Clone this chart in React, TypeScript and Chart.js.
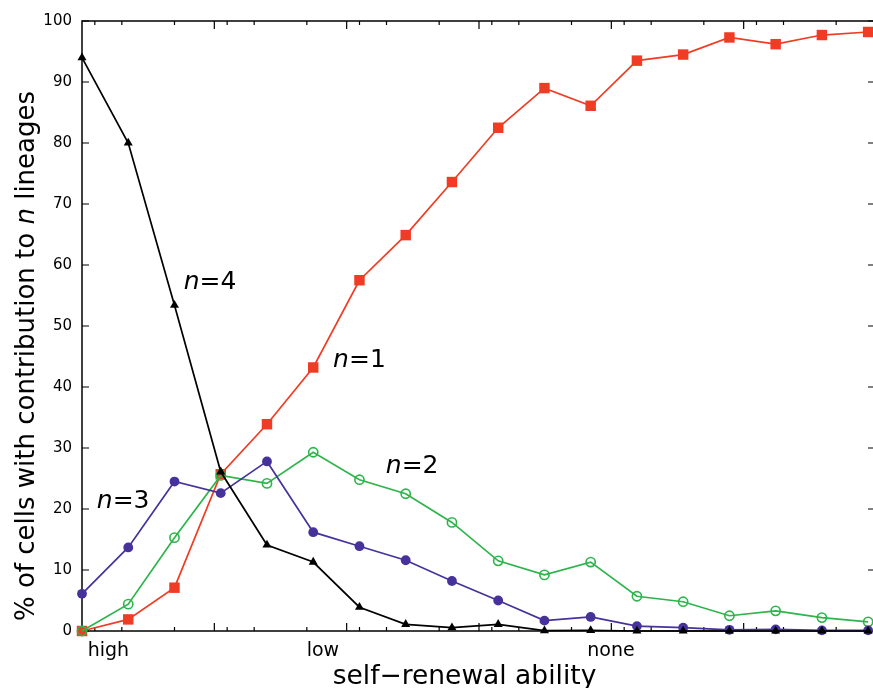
import React, { useEffect, useRef } from "react";
import { Chart, registerables } from "chart.js";

Chart.register(...registerables);

// ---- data ----
const pointIndex = [0, 1, 2, 3, 4, 5, 6, 7, 8, 9, 10, 11, 12, 13, 14, 15, 16, 17];
const n1Values = [0, 1.9, 7.1, 25.7, 33.9, 43.2, 57.5, 64.9, 73.6, 82.5, 89.0, 86.1, 93.5, 94.5, 97.3, 96.2, 97.7, 98.2];
const n2Values = [0, 4.4, 15.3, 25.5, 24.2, 29.3, 24.8, 22.5, 17.8, 11.5, 9.2, 11.3, 5.7, 4.8, 2.5, 3.3, 2.2, 1.5];
const n3Values = [6.1, 13.7, 24.5, 22.6, 27.8, 16.2, 13.9, 11.6, 8.2, 5.0, 1.7, 2.3, 0.8, 0.55, 0.2, 0.27, 0.1, 0.1];
const n4Values = [94.0, 80.0, 53.4, 26.1, 14.1, 11.3, 3.9, 1.1, 0.55, 1.1, 0.05, 0.1, 0, 0, 0, 0, 0, 0];

const xCategoryLabels = ["high", "low", "none"];
const xCategoryPositions = [0.57, 5.21, 11.44];
const xMax = 17.17;

const yMin = 0;
const yMax = 100;
const yStep = 10;

// decorative log-style tick pattern on top/bottom axes
const xTickDecades = [0, 1, 2, 3, 4, 5];
const xMinorTickMultipliers = [1.25, 2, 5];

// in-plot labels "n=k"
const annotationNumbers = ["4", "1", "2", "3"];
const annotationX = [2.2, 5.43, 6.57, 0.32];
const annotationY = [56.1, 43.3, 25.9, 20.2];

const yTitleParts = [
  { text: "% of cells with contribution to ", italic: false },
  { text: "n", italic: true },
  { text: " lineages", italic: false },
];
const xTitle = "self\u2212renewal ability";

const FONT = "'DejaVu Sans', 'Liberation Sans', sans-serif";

const toXY = (vals: number[]) => vals.map((v, i) => ({ x: pointIndex[i], y: v }));

const framePlugin = {
  id: "framePlugin",
  beforeDatasetsDraw(chart: any) {
    const { ctx, chartArea } = chart;
    const { left, right, top, bottom } = chartArea;
    const xlog = chart.scales.xlog;
    const y = chart.scales.y;
    ctx.save();
    ctx.strokeStyle = "#000";
    ctx.lineWidth = 1.5;
    ctx.strokeRect(left, top, right - left, bottom - top);
    ctx.lineWidth = 1.2;
    ctx.beginPath();
    for (const k of xTickDecades) {
      const marks: [number, number][] = [[1, 8], ...xMinorTickMultipliers.map((m) => [m, 4] as [number, number])];
      for (const [m, len] of marks) {
        const px = xlog.getPixelForValue(m * Math.pow(10, k));
        if (px <= left + 1 || px >= right - 1) continue;
        ctx.moveTo(px, bottom);
        ctx.lineTo(px, bottom - len);
        ctx.moveTo(px, top);
        ctx.lineTo(px, top + len);
      }
    }
    for (const t of y.ticks) {
      const py = y.getPixelForValue(t.value);
      ctx.moveTo(left, py);
      ctx.lineTo(left + 7, py);
      ctx.moveTo(right, py);
      ctx.lineTo(right - 8, py);
    }
    ctx.stroke();
    ctx.restore();
  },
  afterDraw(chart: any) {
    const { ctx } = chart;
    const xs = chart.scales.x;
    const ys = chart.scales.y;
    ctx.save();
    ctx.fillStyle = "#000";
    ctx.textBaseline = "alphabetic";
    ctx.textAlign = "left";

    // y title (rotated, mixed italic)
    const tsize = 26;
    const fontFor = (it: boolean, size: number) => `${it ? "italic " : ""}${size}px ${FONT}`;
    let total = 0;
    for (const p of yTitleParts) {
      ctx.font = fontFor(p.italic, tsize);
      total += ctx.measureText(p.text).width;
    }
    ctx.save();
    ctx.translate(34, 356);
    ctx.rotate(-Math.PI / 2);
    let cx = -total / 2;
    for (const p of yTitleParts) {
      ctx.font = fontFor(p.italic, tsize);
      ctx.fillText(p.text, cx, 0);
      cx += ctx.measureText(p.text).width;
    }
    ctx.restore();

    // x title
    ctx.font = fontFor(false, 26.5);
    ctx.textAlign = "center";
    ctx.fillText(xTitle, 464.5, 684);
    ctx.textAlign = "left";

    // annotations
    const asize = 25;
    annotationNumbers.forEach((num, i) => {
      let px = xs.getPixelForValue(annotationX[i]);
      const py = ys.getPixelForValue(annotationY[i]);
      ctx.font = fontFor(true, asize);
      ctx.fillText("n", px, py);
      px += ctx.measureText("n").width;
      ctx.font = fontFor(false, asize);
      ctx.fillText("=" + num, px, py);
    });
    ctx.restore();
  },
};

export default function App() {
  const canvasRef = useRef<HTMLCanvasElement | null>(null);

  useEffect(() => {
    const canvas = canvasRef.current;
    if (!canvas) return;
    const common = { showLine: true, clip: false as any, borderWidth: 1.7, tension: 0 };
    const chart = new Chart(canvas, {
      type: "scatter",
      data: {
        datasets: [
          {
            ...common,
            label: "n=4",
            data: toXY(n4Values),
            borderColor: "#000000",
            backgroundColor: "#000000",
            pointStyle: "triangle",
            pointRadius: 5.2,
            pointBorderWidth: 0,
          },
          {
            ...common,
            label: "n=3",
            data: toXY(n3Values),
            borderColor: "#46329A",
            backgroundColor: "#46329A",
            pointStyle: "circle",
            pointRadius: 4.9,
            pointBorderWidth: 0,
          },
          {
            ...common,
            label: "n=2",
            data: toXY(n2Values),
            borderColor: "#2DB44B",
            backgroundColor: "rgba(0,0,0,0)",
            pointStyle: "circle",
            pointRadius: 4.6,
            pointBorderWidth: 1.6,
          },
          {
            ...common,
            label: "n=1",
            data: toXY(n1Values),
            borderColor: "#F03C24",
            backgroundColor: "#F03C24",
            pointStyle: "rect",
            pointRadius: 7.4,
            pointBorderWidth: 0,
          },
        ],
      },
      options: {
        animation: false,
        responsive: false,
        devicePixelRatio: 1,
        layout: { padding: { top: 21, right: 8, left: 0, bottom: 0 } },
        plugins: {
          legend: { display: false },
          tooltip: { enabled: false },
        },
        scales: {
          x: {
            type: "linear",
            position: "bottom",
            min: 0,
            max: xMax,
            grid: { display: false, drawTicks: false },
            border: { display: false },
            afterBuildTicks: (scale: any) => {
              scale.ticks = xCategoryPositions.map((v) => ({ value: v }));
            },
            afterFit: (scale: any) => {
              scale.height = 57;
            },
            ticks: {
              autoSkip: false,
              maxRotation: 0,
              padding: 9,
              color: "#000",
              font: { family: FONT, size: 19 },
              callback: (_v: any, i: number) => xCategoryLabels[i],
            },
          },
          xlog: {
            type: "logarithmic",
            position: "bottom",
            axis: "x",
            display: false,
            min: 1,
            max: 1e6,
          },
          y: {
            type: "linear",
            min: yMin,
            max: yMax,
            grid: { display: false, drawTicks: false },
            border: { display: false },
            afterFit: (scale: any) => {
              scale.width = 82;
            },
            ticks: {
              stepSize: yStep,
              padding: 10,
              color: "#000",
              font: { family: FONT, size: 15 },
            },
          },
        },
      } as any,
      plugins: [framePlugin],
    });
    return () => chart.destroy();
  }, []);

  return (
    <div
      style={{
        position: "fixed",
        left: 0,
        top: 0,
        width: 873,
        height: 688,
        overflow: "hidden",
        background: "#fff",
      }}
    >
      <canvas ref={canvasRef} width={884} height={688} style={{ display: "block" }} />
    </div>
  );
}
